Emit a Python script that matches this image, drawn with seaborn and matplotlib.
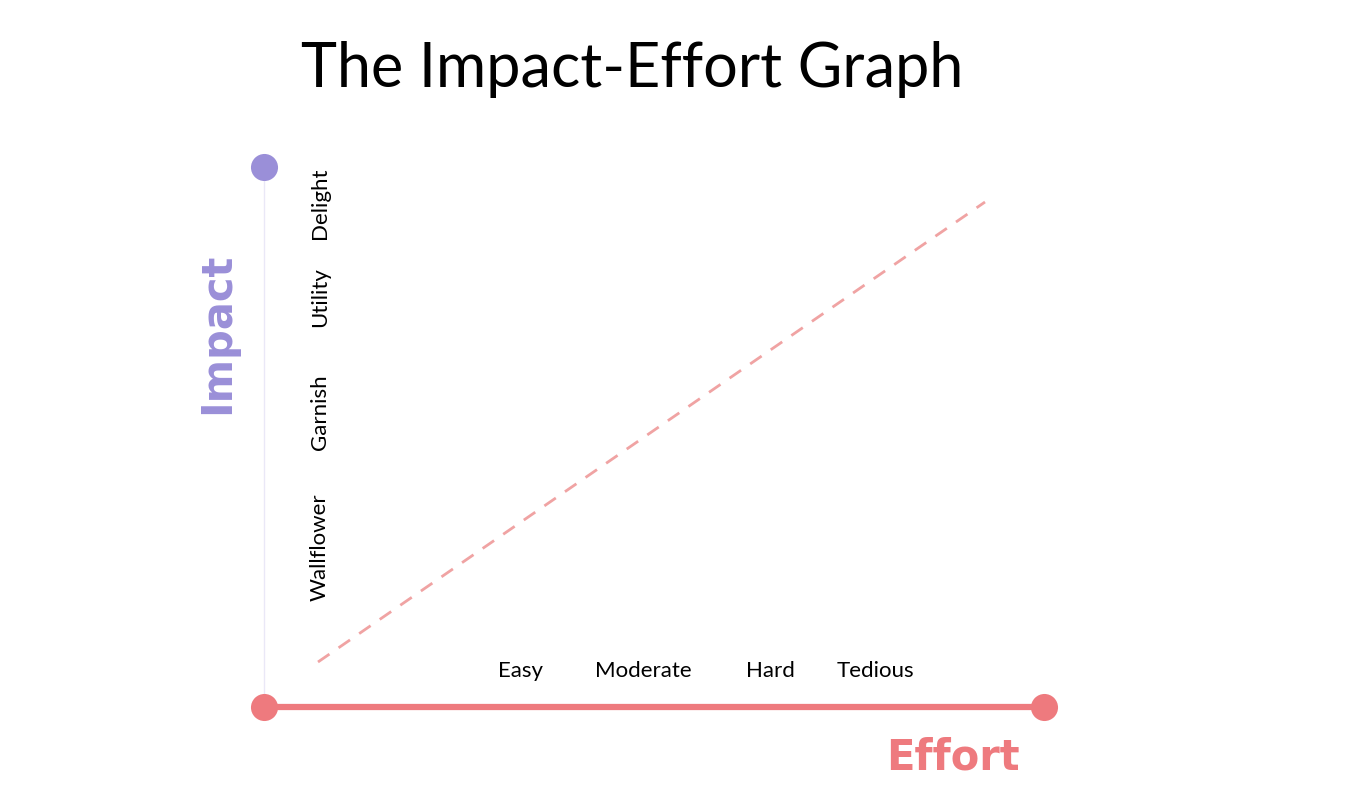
import matplotlib
matplotlib.use("Agg")
import matplotlib.pyplot as plt
import seaborn as sns
import pandas as pd

sns.set_theme(style="white")
plt.rcParams["font.family"] = ["Lato", "DejaVu Sans"]

# diagram data (canvas units, y grows downward)
impact_labels = ["Wallflower", "Garnish", "Utility", "Delight"]
impact_pos = [547, 412, 297, 203]
effort_labels = ["Easy", "Moderate", "Hard", "Tedious"]
effort_pos = [521, 643, 770, 875]
origin = (264, 707)
impact_end = (264, 167)
effort_end = (1044, 707)
trend_x = [318, 985]
trend_y = [662, 202]

PURPLE = "#9A8FD8"
CORAL = "#EE7A7E"
PINK = "#F0A3A3"

fig = plt.figure(figsize=(13.52, 7.9), dpi=100)
ax = fig.add_axes([0, 0, 1, 1])
ax.set_xlim(0, 1352)
ax.set_ylim(790, 0)
ax.axis("off")

imp = pd.DataFrame({"x": [origin[0], impact_end[0]], "y": [origin[1], impact_end[1]]})
eff = pd.DataFrame({"x": [origin[0], effort_end[0]], "y": [origin[1], effort_end[1]]})
sns.lineplot(data=imp, x="x", y="y", color=PURPLE, lw=4.5, ax=ax, sort=False)
sns.lineplot(data=eff, x="x", y="y", color=CORAL, lw=4.5, ax=ax, sort=False)
ax.plot(trend_x, trend_y, color=PINK, lw=2, ls=(0, (5, 4)))
sns.scatterplot(x=[impact_end[0]], y=[impact_end[1]], color=PURPLE, s=380, ax=ax, linewidth=0)
sns.scatterplot(x=[origin[0], effort_end[0]], y=[origin[1], effort_end[1]], color=CORAL, s=380, ax=ax, linewidth=0, zorder=5)

for lab, y in zip(impact_labels, impact_pos):
    ax.text(320, y, lab, rotation=90, ha="center", va="center", fontsize=16, color="black")
for lab, x in zip(effort_labels, effort_pos):
    ax.text(x, 671, lab, ha="center", va="center", fontsize=16, color="black")

ax.text(632, 70, "The Impact-Effort Graph", ha="center", va="center", fontsize=44, color="black")
narrow = ["Liberation Sans Narrow", "DejaVu Sans"]
ax.text(217, 333, "Impact", rotation=90, ha="center", va="center", fontsize=30,
        fontweight="bold", color=PURPLE, family=narrow)
ax.text(953, 758, "Effort", ha="center", va="center", fontsize=30,
        fontweight="bold", color=CORAL, family=narrow)

fig.savefig("out.png", dpi=100)
